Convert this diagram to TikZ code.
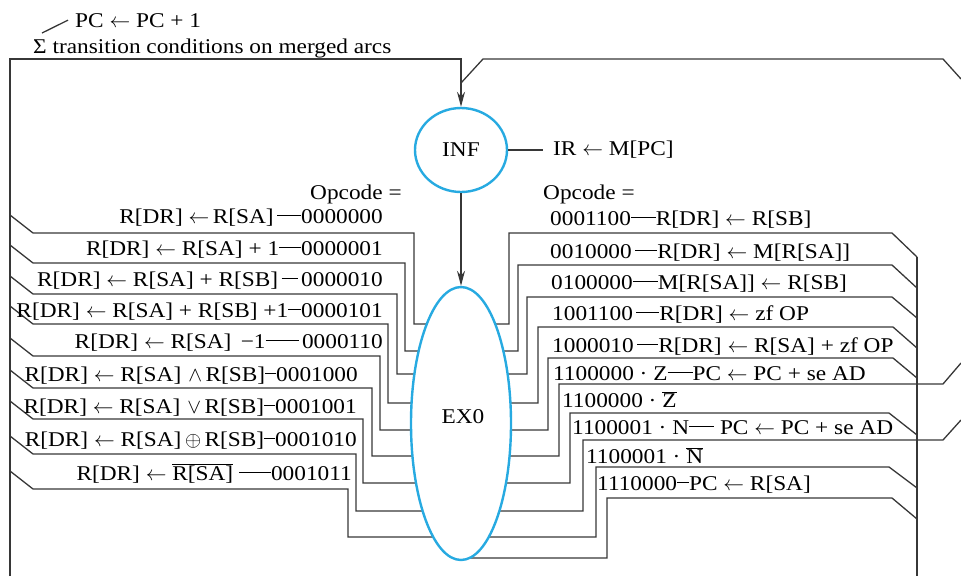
\documentclass[tikz,border=0pt]{standalone}
\usepackage{fontspec}
\setmainfont{Liberation Serif}[FakeStretch=1.11]
\usetikzlibrary{arrows.meta,shapes.geometric}
\pgfdeclarelayer{bg}
\pgfsetlayers{bg,main}
\definecolor{stblue}{RGB}{39,170,225}
\definecolor{wire}{RGB}{55,55,55}
\newcommand{\la}{\ensuremath{\leftarrow}}
\newcommand{\dl}[1]{\rule[0.33em]{#1pt}{1.1pt}}
\begin{document}
\begin{tikzpicture}[x=1pt,y=-1pt,
  txt/.style={inner sep=0pt, font=\fontsize{21}{24}\selectfont},
  lbl/.style={txt, anchor=base east},
  rbl/.style={txt, anchor=base west},
  statenode/.style={ellipse, draw=stblue, line width=2.4pt, fill=white, inner sep=0pt, font=\fontsize{21}{24}\selectfont},
  wirestyle/.style={draw=wire, line width=1.3pt},
  arr/.style={-{Stealth[length=15pt,width=8pt]}}]
\useasboundingbox (0,0) rectangle (961,576);

% states
\node[statenode, minimum width=92pt, minimum height=84pt] (INF) at (461,150) {INF};
\node[statenode, minimum width=100pt, minimum height=273pt] (EX0) at (461,423.5) {};
\node[txt, anchor=base] (EX0t) at (463,423) {EX0};

% top texts
\node[txt, anchor=base west] (pcinc) at (75,27) {PC \la\ PC + 1};
\node[txt, anchor=base west] (sigma) at (33,53) {Σ transition conditions on merged arcs};
\coordinate (lead) at (42,33);
\draw[wirestyle] (lead) -- ([xshift=-7pt]pcinc.west);

\node[txt, anchor=base west] (ir) at (553,155) {IR \la\ M[PC]};
\draw[wirestyle, shorten >=10pt] (INF.east) -- (INF.east -| ir.west);

\node[txt, anchor=base west] (opl) at (310,199) {Opcode =};
\node[txt, anchor=base west] (opr) at (543,199) {Opcode =};

% frame lines
\coordinate (lbot) at (10,576);
\coordinate (rtop) at (917,257);
\coordinate (rbot) at (917,576);
\coordinate (tre) at (961,79);
\draw[wirestyle, arr] (lbot) -- (10,59) -| (INF.north);
\draw[wirestyle] (tre) -- (943,59) -- (483,59) -- (INF.north |- 0,83);
\draw[wirestyle] (rtop) -- (rbot);
\draw[wirestyle, arr] (INF.south) -- (EX0.north);

\begin{pgfonlayer}{bg}
\foreach \yb/\xv/\yh in {233/414/324, 263/405/351, 294/397/374, 324/388/403, 356/380/430, 388/372/456, 419/363/483, 454/356/511, 489/348/537}{
  \draw[wirestyle] (10,\yb-18) -- (33,\yb) -- (\xv,\yb) -- (\xv,\yh) -- (EX0.center |- 0,\yh);
}
\foreach \yh/\xv/\yt/\xd/\ye in {324/509/233/892/257, 351/518/265/892/288, 374/527/297/892/318, 403/538/327/893/348, 430/548/358/893/378, 483/570/413/889/435, 537/596/467/889/488, 558/607/498/892/519}{
  \draw[wirestyle] (EX0.center |- 0,\yh) -- (\xv,\yh) -- (\xv,\yt) -- (\xd,\yt) -- (917,\ye);
}
\draw[wirestyle] (EX0.center |- 0,456) -- (559,456) -- (559,384) -- (943,384) -- (961,363);
\draw[wirestyle] (EX0.center |- 0,511) -- (583,511) -- (583,440) -- (943,440) -- (961,420);
\end{pgfonlayer}

% left labels
\node[lbl] (l1) at (383,223) {R[DR] \la\,R[SA]\,\dl{24}0000000};
\node[lbl] (l2) at (383,255) {R[DR] \la\ R[SA] + 1\dl{22}0000001};
\node[lbl] (l3) at (383,286) {R[DR] \la\ R[SA] + R[SB]\,\dl{16}\,0000010};
\node[lbl] (l4) at (383,317) {R[DR] \la\ R[SA] + R[SB] +1\dl{13}0000101};
\node[lbl] (l5) at (383,348) {R[DR] \la\ R[SA] \,−1\dl{33}\,0000110};
\node[lbl] (l6) at (358,381) {R[DR] \la\ R[SA]\,\,$\wedge$\,R[SB]\dl{11}0001000};
\node[lbl] (l7) at (357,413) {R[DR] \la\ R[SA]\,\,$\vee$\,R[SB]\dl{11}0001001};
\node[lbl] (l8) at (357,446) {R[DR] \la\ R[SA]\,$\oplus$\,R[SB]\dl{11}0001010};
\node[lbl] (l9) at (352,480) {R[DR] \la\ $\overline{\mbox{R[SA]}}$ \dl{32}0001011};

% right labels
\node[rbl] (r1) at (550,225) {0001100\dl{25}R[DR] \la\ R[SB]};
\node[rbl] (r2) at (550,258) {0010000\,\dl{22}R[DR] \la\ M[R[SA]]};
\node[rbl] (r3) at (551,289) {0100000\dl{25}M[R[SA]] \la\ R[SB]};
\node[rbl] (r4) at (552,320) {1001100\,\dl{23}R[DR] \la\ zf OP};
\node[rbl] (r5) at (552,352) {1000010\,\dl{21}R[DR] \la\ R[SA] + zf OP};
\node[rbl] (r6) at (553,380) {1100000 · Z\dl{25}PC \la\ PC + se AD};
\node[rbl] (r7) at (562,407) {1100000 · $\overline{\mbox{Z}}$};
\node[rbl] (r8) at (572,434) {1100001 · N\dl{25} PC \la\ PC + se AD};
\node[rbl] (r9) at (586,463) {1100001 · $\overline{\mbox{N}}$};
\node[rbl] (r10) at (597,490) {1110000\dl{12}PC \la\ R[SA]};
\end{tikzpicture}
\end{document}
